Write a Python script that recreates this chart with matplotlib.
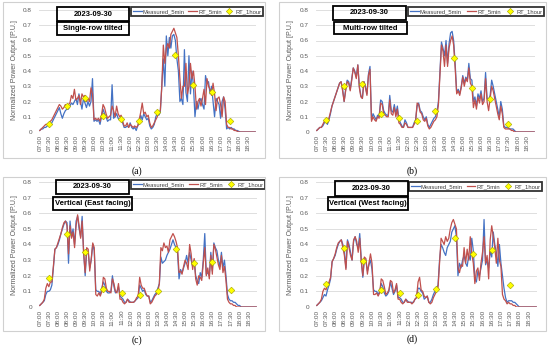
import numpy as np
import matplotlib
matplotlib.use("Agg")
import matplotlib.pyplot as plt
from matplotlib.patches import Rectangle
from matplotlib.lines import Line2D

plt.rcParams['font.family'] = ['Liberation Sans', 'DejaVu Sans']

W, H = 550, 350

date_label = "2023-09-30"
panel_names = ["Single-row tilted", "Multi-row tilted", "Vertical (East facing)", "Vertical (West facing)"]
captions = ["(a)", "(b)", "(c)", "(d)"]
series_names = ["Measured_5min", "RT_5min", "RT_1hour"]

tick_labels = ["07:00", "07:30", "08:00", "08:30", "09:00", "09:30", "10:00", "10:30",
               "11:00", "11:30", "12:00", "12:30", "13:00", "13:30", "14:00", "14:30",
               "15:00", "15:30", "16:00", "16:30", "17:00", "17:30", "18:00", "18:30"]
hour_labels = ["07:30", "08:30", "09:30", "10:30", "11:30", "12:30",
               "13:30", "14:30", "15:30", "16:30", "17:30"]

# 5-min values, one row per hour (07:00 ... 18:55)
measured_a = [0.01, 0.02, 0.02, 0.03, 0.03, 0.04, 0.05, 0.05, 0.06, 0.08, 0.10, 0.12,
              0.14, 0.16, 0.12, 0.09, 0.12, 0.14, 0.15, 0.15, 0.17, 0.19, 0.18, 0.20,
              0.22, 0.18, 0.25, 0.20, 0.15, 0.22, 0.19, 0.16, 0.20, 0.17, 0.20, 0.35,
              0.07, 0.08, 0.07, 0.08, 0.05, 0.10, 0.15, 0.12, 0.10, 0.07, 0.08, 0.08,
              0.31, 0.09, 0.10, 0.12, 0.09, 0.08, 0.10, 0.06, 0.03, 0.03, 0.04, 0.03,
              0.06, 0.03, 0.02, 0.03, 0.01, 0.04, 0.06, 0.11, 0.08, 0.12, 0.10, 0.08,
              0.09, 0.04, 0.02, 0.03, 0.05, 0.10, 0.12, 0.11, 0.13, 0.30, 0.48, 0.30,
              0.63, 0.50, 0.62, 0.55, 0.63, 0.64, 0.60, 0.48, 0.40, 0.20, 0.22, 0.18,
              0.54, 0.26, 0.20, 0.50, 0.25, 0.40, 0.30, 0.10, 0.20, 0.15, 0.20, 0.22,
              0.18, 0.15, 0.37, 0.32, 0.33, 0.25, 0.30, 0.20, 0.10, 0.22, 0.20, 0.18,
              0.09, 0.20, 0.23, 0.15, 0.02, 0.03, 0.02, 0.03, 0.02, 0.02, 0.01, 0.01,
              0.005, 0, 0, 0, 0, 0, 0, 0, 0, 0, 0, 0]
rt5_a = [0.01, 0.02, 0.03, 0.04, 0.05, 0.05, 0.06, 0.07, 0.08, 0.10, 0.12, 0.14,
         0.16, 0.18, 0.17, 0.15, 0.16, 0.18, 0.17, 0.18, 0.19, 0.24, 0.22, 0.28,
         0.21, 0.22, 0.24, 0.18, 0.25, 0.23, 0.24, 0.20, 0.22, 0.20, 0.29, 0.25,
         0.08, 0.09, 0.08, 0.09, 0.07, 0.11, 0.18, 0.16, 0.12, 0.09, 0.10, 0.11,
         0.17, 0.14, 0.10, 0.17, 0.12, 0.10, 0.11, 0.07, 0.04, 0.04, 0.06, 0.03,
         0.05, 0.04, 0.03, 0.04, 0.03, 0.04, 0.08, 0.13, 0.19, 0.12, 0.13, 0.10,
         0.11, 0.06, 0.03, 0.04, 0.06, 0.08, 0.10, 0.13, 0.14, 0.30, 0.57, 0.45,
         0.55, 0.58, 0.55, 0.64, 0.66, 0.68, 0.65, 0.62, 0.50, 0.35, 0.22, 0.30,
         0.30, 0.45, 0.25, 0.30, 0.45, 0.35, 0.40, 0.30, 0.15, 0.20, 0.22, 0.17,
         0.22, 0.28, 0.18, 0.35, 0.30, 0.28, 0.24, 0.32, 0.25, 0.14, 0.22, 0.23,
         0.18, 0.10, 0.23, 0.20, 0.05, 0.03, 0.03, 0.02, 0.02, 0.01, 0.01, 0.005,
         0, 0, 0, 0, 0, 0, 0, 0, 0, 0, 0, 0]
rt1h_a = [0.055, 0.17, 0.22, 0.105, 0.085, 0.07, 0.13, 0.505, 0.31, 0.265, 0.075]

measured_b = [0.01, 0.02, 0.03, 0.03, 0.04, 0.06, 0.07, 0.05, 0.08, 0.12, 0.17, 0.20,
              0.23, 0.26, 0.29, 0.32, 0.33, 0.28, 0.20, 0.28, 0.34, 0.33, 0.28, 0.35,
              0.42, 0.40, 0.36, 0.44, 0.30, 0.24, 0.22, 0.33, 0.30, 0.25, 0.38, 0.43,
              0.08, 0.12, 0.10, 0.08, 0.11, 0.10, 0.21, 0.20, 0.14, 0.12, 0.11, 0.11,
              0.24, 0.14, 0.13, 0.18, 0.12, 0.17, 0.08, 0.06, 0.04, 0.03, 0.08, 0.06,
              0.03, 0.03, 0.03, 0.03, 0.06, 0.08, 0.17, 0.19, 0.14, 0.13, 0.10, 0.08,
              0.10, 0.05, 0.03, 0.05, 0.07, 0.09, 0.10, 0.13, 0.20, 0.40, 0.59, 0.55,
              0.50, 0.60, 0.45, 0.58, 0.65, 0.66, 0.60, 0.45, 0.26, 0.28, 0.25, 0.30,
              0.37, 0.32, 0.36, 0.34, 0.45, 0.35, 0.34, 0.20, 0.23, 0.17, 0.25, 0.22,
              0.27, 0.20, 0.22, 0.39, 0.22, 0.21, 0.24, 0.34, 0.30, 0.25, 0.20, 0.15,
              0.10, 0.20, 0.15, 0.04, 0.03, 0.03, 0.025, 0.02, 0.02, 0.02, 0.01, 0,
              0, 0, 0, 0, 0, 0, 0, 0, 0, 0, 0, 0]
rt5_b = [0.01, 0.02, 0.03, 0.03, 0.05, 0.07, 0.07, 0.06, 0.09, 0.13, 0.17, 0.20,
         0.23, 0.26, 0.29, 0.32, 0.33, 0.27, 0.20, 0.27, 0.33, 0.32, 0.27, 0.34,
         0.42, 0.39, 0.35, 0.44, 0.29, 0.23, 0.22, 0.33, 0.29, 0.24, 0.37, 0.41,
         0.07, 0.10, 0.08, 0.07, 0.10, 0.09, 0.19, 0.18, 0.12, 0.11, 0.10, 0.10,
         0.21, 0.12, 0.11, 0.16, 0.10, 0.15, 0.06, 0.05, 0.03, 0.03, 0.06, 0.05,
         0.03, 0.03, 0.03, 0.03, 0.05, 0.07, 0.19, 0.18, 0.13, 0.12, 0.08, 0.07,
         0.09, 0.04, 0.02, 0.03, 0.05, 0.07, 0.08, 0.10, 0.18, 0.38, 0.57, 0.53,
         0.43, 0.57, 0.43, 0.55, 0.60, 0.63, 0.57, 0.42, 0.25, 0.27, 0.24, 0.29,
         0.36, 0.30, 0.35, 0.33, 0.42, 0.32, 0.30, 0.16, 0.21, 0.15, 0.23, 0.19,
         0.25, 0.18, 0.20, 0.35, 0.20, 0.14, 0.22, 0.30, 0.27, 0.22, 0.17, 0.12,
         0.08, 0.17, 0.12, 0.03, 0.02, 0.02, 0.02, 0.02, 0.01, 0.01, 0, 0,
         0, 0, 0, 0, 0, 0, 0, 0, 0, 0, 0, 0]
rt1h_b = [0.08, 0.30, 0.315, 0.115, 0.09, 0.075, 0.14, 0.485, 0.29, 0.215, 0.05]

measured_c = [0.01, 0.02, 0.03, 0.04, 0.08, 0.10, 0.10, 0.11, 0.14, 0.25, 0.37, 0.38,
              0.40, 0.43, 0.47, 0.50, 0.53, 0.55, 0.54, 0.28, 0.55, 0.45, 0.50, 0.40,
              0.55, 0.58, 0.50, 0.45, 0.58, 0.35, 0.20, 0.36, 0.35, 0.25, 0.30, 0.40,
              0.36, 0.11, 0.10, 0.10, 0.08, 0.12, 0.16, 0.14, 0.10, 0.09, 0.09, 0.10,
              0.20, 0.13, 0.09, 0.10, 0.13, 0.07, 0.06, 0.05, 0.03, 0.03, 0.05, 0.04,
              0.03, 0.03, 0.03, 0.04, 0.05, 0.06, 0.14, 0.12, 0.10, 0.11, 0.08, 0.07,
              0.07, 0.03, 0.04, 0.06, 0.08, 0.09, 0.12, 0.15, 0.32, 0.28, 0.29, 0.30,
              0.33, 0.35, 0.37, 0.40, 0.43, 0.40, 0.38, 0.35, 0.18, 0.24, 0.22, 0.25,
              0.28, 0.33, 0.28, 0.35, 0.30, 0.26, 0.30, 0.20, 0.17, 0.15, 0.22, 0.19,
              0.30, 0.47, 0.21, 0.22, 0.20, 0.35, 0.23, 0.41, 0.38, 0.36, 0.30, 0.26,
              0.35, 0.25, 0.30, 0.20, 0.08, 0.05, 0.04, 0.04, 0.03, 0.03, 0.02, 0.01,
              0.01, 0, 0, 0, 0, 0, 0, 0, 0, 0, 0, 0]
rt5_c = [0.01, 0.02, 0.03, 0.05, 0.12, 0.15, 0.13, 0.16, 0.16, 0.26, 0.37, 0.38,
         0.41, 0.44, 0.47, 0.51, 0.54, 0.55, 0.52, 0.34, 0.52, 0.44, 0.48, 0.38,
         0.52, 0.59, 0.52, 0.44, 0.55, 0.34, 0.22, 0.38, 0.37, 0.23, 0.31, 0.41,
         0.38, 0.08, 0.07, 0.09, 0.07, 0.10, 0.19, 0.18, 0.12, 0.10, 0.10, 0.09,
         0.18, 0.15, 0.10, 0.09, 0.15, 0.05, 0.05, 0.03, 0.02, 0.03, 0.05, 0.03,
         0.03, 0.03, 0.03, 0.04, 0.06, 0.07, 0.19, 0.14, 0.12, 0.12, 0.09, 0.07,
         0.07, 0.02, 0.03, 0.05, 0.07, 0.08, 0.10, 0.15, 0.38, 0.36, 0.41, 0.38,
         0.39, 0.35, 0.43, 0.45, 0.47, 0.45, 0.42, 0.38, 0.22, 0.23, 0.21, 0.26,
         0.30, 0.28, 0.24, 0.40, 0.34, 0.24, 0.31, 0.18, 0.14, 0.20, 0.19, 0.17,
         0.28, 0.38, 0.20, 0.25, 0.18, 0.33, 0.21, 0.40, 0.37, 0.32, 0.27, 0.24,
         0.33, 0.22, 0.26, 0.17, 0.05, 0.03, 0.02, 0.02, 0.01, 0.01, 0, 0,
         0, 0, 0, 0, 0, 0, 0, 0, 0, 0, 0, 0]
rt1h_c = [0.185, 0.47, 0.355, 0.115, 0.09, 0.075, 0.105, 0.37, 0.28, 0.29, 0.11]

measured_d = [0.01, 0.02, 0.03, 0.04, 0.06, 0.08, 0.07, 0.11, 0.14, 0.18, 0.29, 0.31,
              0.33, 0.37, 0.40, 0.42, 0.43, 0.40, 0.36, 0.25, 0.43, 0.40, 0.35, 0.30,
              0.42, 0.45, 0.40, 0.38, 0.47, 0.30, 0.19, 0.30, 0.30, 0.23, 0.27, 0.30,
              0.24, 0.11, 0.10, 0.10, 0.08, 0.10, 0.15, 0.13, 0.09, 0.07, 0.08, 0.10,
              0.16, 0.12, 0.08, 0.10, 0.14, 0.06, 0.06, 0.05, 0.03, 0.03, 0.05, 0.04,
              0.03, 0.03, 0.03, 0.03, 0.05, 0.06, 0.12, 0.12, 0.10, 0.09, 0.05, 0.06,
              0.07, 0.03, 0.03, 0.05, 0.08, 0.10, 0.12, 0.14, 0.30, 0.40, 0.38, 0.35,
              0.33, 0.38, 0.40, 0.42, 0.48, 0.50, 0.52, 0.45, 0.20, 0.28, 0.25, 0.30,
              0.33, 0.28, 0.26, 0.33, 0.30, 0.44, 0.36, 0.18, 0.16, 0.23, 0.20, 0.25,
              0.30, 0.56, 0.27, 0.30, 0.25, 0.36, 0.32, 0.48, 0.40, 0.35, 0.26, 0.40,
              0.28, 0.20, 0.12, 0.06, 0.03, 0.04, 0.04, 0.04, 0.03, 0.03, 0.02, 0.01,
              0, 0, 0, 0, 0, 0, 0, 0, 0, 0, 0, 0]
rt5_d = [0.01, 0.02, 0.03, 0.05, 0.10, 0.12, 0.11, 0.14, 0.16, 0.19, 0.29, 0.31,
         0.34, 0.38, 0.41, 0.42, 0.43, 0.38, 0.33, 0.24, 0.42, 0.38, 0.33, 0.30,
         0.43, 0.45, 0.42, 0.35, 0.44, 0.29, 0.20, 0.32, 0.31, 0.21, 0.28, 0.34,
         0.28, 0.08, 0.08, 0.09, 0.07, 0.09, 0.18, 0.17, 0.13, 0.08, 0.09, 0.11,
         0.17, 0.16, 0.09, 0.11, 0.15, 0.05, 0.05, 0.03, 0.02, 0.03, 0.05, 0.03,
         0.03, 0.03, 0.02, 0.03, 0.05, 0.06, 0.16, 0.19, 0.11, 0.10, 0.07, 0.06,
         0.07, 0.03, 0.02, 0.03, 0.06, 0.08, 0.10, 0.12, 0.28, 0.44, 0.42, 0.40,
         0.45, 0.42, 0.44, 0.50, 0.54, 0.56, 0.53, 0.50, 0.25, 0.22, 0.27, 0.26,
         0.38, 0.28, 0.37, 0.30, 0.45, 0.34, 0.28, 0.15, 0.23, 0.25, 0.17, 0.28,
         0.35, 0.45, 0.28, 0.33, 0.18, 0.43, 0.52, 0.45, 0.38, 0.28, 0.44, 0.30,
         0.26, 0.08, 0.05, 0.04, 0.02, 0.03, 0.02, 0.02, 0.01, 0.01, 0, 0,
         0, 0, 0, 0, 0, 0, 0, 0, 0, 0, 0, 0]
rt1h_d = [0.145, 0.375, 0.295, 0.11, 0.09, 0.075, 0.115, 0.44, 0.34, 0.365, 0.14]

measured_all = [measured_a, measured_b, measured_c, measured_d]
rt5_all = [rt5_a, rt5_b, rt5_c, rt5_d]
rt1h_all = [rt1h_a, rt1h_b, rt1h_c, rt1h_d]

BLUE = "#4472C4"
RED = "#C0504D"


def fx(px):
    return px / W


def fy(py):
    return 1 - py / H


def box_text(fig, x0, y0, x1, y1, text):
    fig.patches.append(Rectangle((fx(x0), fy(y1)), fx(x1 - x0), (y1 - y0) / H,
                                 transform=fig.transFigure, fill=False,
                                 edgecolor="black", linewidth=1.3, zorder=5))
    fig.text(fx((x0 + x1) / 2), fy((y0 + y1) / 2), text, ha="center", va="center",
             fontsize=5.5, fontweight="bold", zorder=6)


fig = plt.figure(figsize=(W / 100, H / 100), dpi=100)

# panel geometry in pixels: plot left, right, top(0.8), bottom(0), outer frame, boxes
layout = [
    dict(plot=(39, 256, 10, 132), frame=(3, 2, 265, 158), cap=(137, 171),
         date=(57, 7, 129, 21), name=(57, 22, 129, 35), leg=(131, 7, 263), ylab=(15, 70)),
    dict(plot=(316, 535, 10, 132), frame=(279, 2, 546, 158), cap=(412, 171),
         date=(333, 6, 406, 20), name=(334, 22, 407, 34), leg=(408, 7, 544), ylab=(291, 70)),
    dict(plot=(39, 257, 182, 307), frame=(3, 177, 265, 331), cap=(137, 340),
         date=(56, 180, 129, 194), name=(53, 197, 132, 210), leg=(131, 180, 265), ylab=(15, 245)),
    dict(plot=(316, 537, 182, 307), frame=(279, 177, 546, 331), cap=(412, 339),
         date=(335, 181, 408, 196), name=(328, 197, 408, 210), leg=(409, 182, 542), ylab=(291, 245)),
]

x = np.arange(len(measured_a))
hour_pos = [tick_labels.index(h) * 6 for h in hour_labels]

for k in range(4):
    g = layout[k]
    fl, ft, fr, fb = g["frame"]
    fig.patches.append(Rectangle((fx(fl), fy(fb)), fx(fr - fl), (fb - ft) / H,
                                 transform=fig.transFigure, fill=False,
                                 edgecolor="#D0D0D0", linewidth=0.8))

    l, r, t, b = g["plot"]
    ax = fig.add_axes([fx(l), fy(b), fx(r - l), (b - t) / H])
    ax.plot(x, measured_all[k], color=BLUE, lw=0.9, zorder=3)
    ax.plot(x, rt5_all[k], color=RED, lw=0.9, zorder=4)
    ax.plot(hour_pos, rt1h_all[k], ls="none", marker="D", ms=3.4,
            mfc="#FFFF00", mec="#A0A000", mew=0.4, zorder=5)

    ax.set_xlim(-0.5, len(x) - 0.5)
    ax.set_ylim(0, 0.8)
    ax.set_yticks(np.arange(0, 0.81, 0.1))
    ax.set_yticklabels(["0"] + [f"{v:.1f}" for v in np.arange(0.1, 0.81, 0.1)])
    ax.set_xticks(np.arange(0, len(tick_labels) * 6, 6))
    ax.set_xticklabels(tick_labels, rotation=90)
    ax.tick_params(axis="both", length=0, labelsize=4.6, colors="#595959")
    ax.tick_params(axis="y", pad=5)
    ax.tick_params(axis="x", pad=2)
    ax.grid(axis="y", color="#D9D9D9", lw=0.6)
    ax.set_axisbelow(True)
    for s in ax.spines.values():
        s.set_visible(False)

    fig.text(fx(g["ylab"][0]), fy(g["ylab"][1]), "Normalized Power Output [P.U.]",
             rotation=90, ha="center", va="center", fontsize=5, color="#595959")

    box_text(fig, *g["date"], date_label)
    box_text(fig, *g["name"], panel_names[k])

    handles = [Line2D([], [], color=BLUE, lw=0.9),
               Line2D([], [], color=RED, lw=0.9),
               Line2D([], [], ls="none", marker="D", ms=3.2, mfc="#FFFF00",
                      mec="#A0A000", mew=0.4)]
    lx0, ly0, lx1 = g["leg"]
    leg = ax.legend(handles, series_names, loc="upper left",
                    bbox_to_anchor=(fx(lx0), fy(ly0) - 0.01, fx(lx1 - lx0), 0.01),
                    bbox_transform=fig.transFigure, ncol=3, fontsize=4.2, mode="expand",
                    frameon=True, fancybox=False, handlelength=1.5,
                    handletextpad=0.25, columnspacing=0.4, borderpad=0.3,
                    borderaxespad=0)
    leg.get_frame().set_edgecolor("black")
    leg.get_frame().set_linewidth(1.3)
    for t_ in leg.get_texts():
        t_.set_color("#404040")

    fig.text(fx(g["cap"][0]), fy(g["cap"][1]), captions[k], ha="center", va="center",
             fontsize=7, family="Liberation Serif")

fig.savefig("out.png", dpi=100)
